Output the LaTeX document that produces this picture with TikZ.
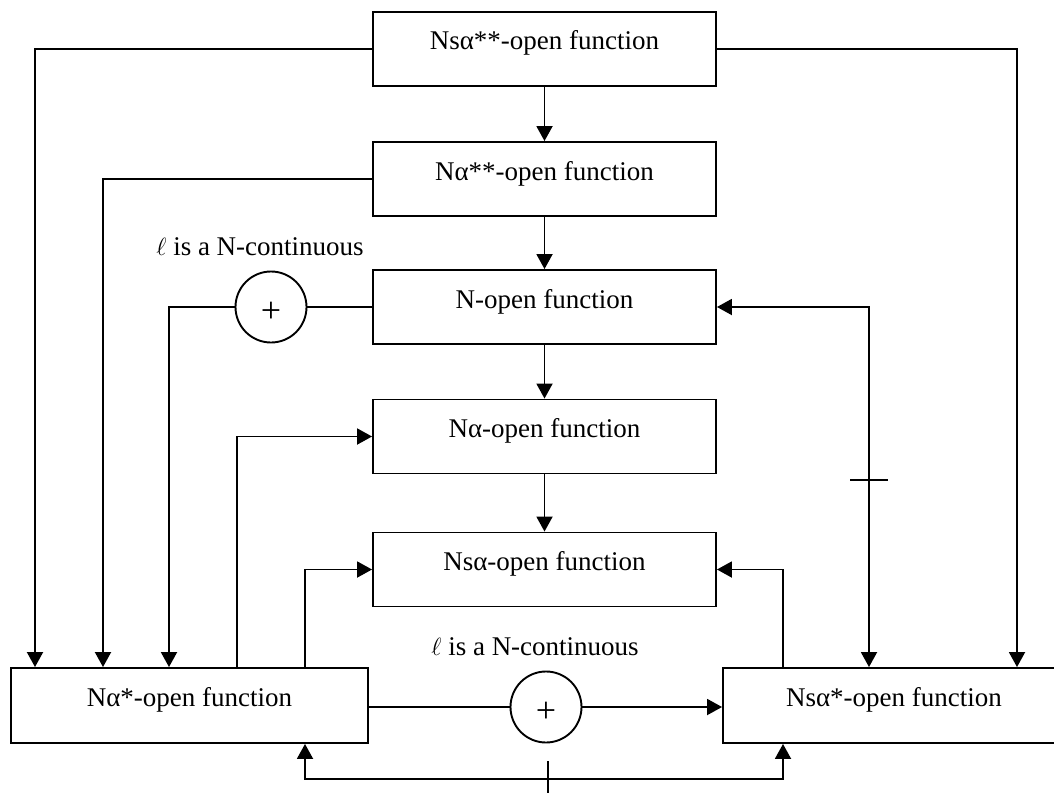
\documentclass[tikz,border=0pt]{standalone}
\usepackage{fontspec}
\setmainfont{Liberation Serif}
\usetikzlibrary{arrows.meta}
\begin{document}
\begin{tikzpicture}[x=1pt,y=-1pt,
  line width=1.9pt,
  txt/.style={font=\fontsize{27}{32}\selectfont},
  box/.style={draw, rectangle, inner sep=0pt, txt, text height=19pt, text depth=17pt},
  colbox/.style={box, minimum width=343pt, minimum height=74pt},
  sumnode/.style={draw, circle, inner sep=0pt, minimum size=71pt, font=\fontsize{36}{40}\selectfont, text height=30pt, text depth=0pt},
  arr/.style={-{Triangle[length=15pt,width=16pt]}},
  darr/.style={{Triangle[length=15pt,width=16pt]}-{Triangle[length=15pt,width=16pt]}}
]
\clip (0,0) rectangle (1054,792);
\fill[white] (0,0) rectangle (1054,792);

% boxes
\node[colbox] (b1) at (544.5,49) {Nsα**-open function};
\node[colbox] (b2) at (544.5,179) {Nα**-open function};
\node[colbox] (b3) at (544.5,307) {N-open function};
\node[colbox] (b4) at (544.5,436.5) {Nα-open function};
\node[colbox] (b5) at (544.5,569.5) {Nsα-open function};
\node[box, minimum width=357pt, minimum height=75pt] (b6) at (189.5,705.5) {Nα*-open function};
\node[box, minimum width=342pt, minimum height=75pt] (b7) at (894,705.5) {Nsα*-open function};

% summing circles
\node[sumnode] (c1) at (271,307) {+};
\node[sumnode] (c2) at (546,707) {+};

% labels
\node[txt, anchor=base] (l1) at (260,255) {$\ell$ is a N-continuous};
\node[txt, anchor=base] (l2) at (535,655) {$\ell$ is a N-continuous};

% column coordinates
\coordinate (xa) at (35,0);
\coordinate (xb) at (103,0);
\coordinate (xc) at (169,0);
\coordinate (xd) at (237,0);
\coordinate (xe) at (305,0);
\coordinate (xf) at (783,0);
\coordinate (xg) at (869,0);
\coordinate (xh) at (1017,0);
\coordinate (bot) at (548,779);
\coordinate (tickr) at (869,480);

% vertical chain
\draw[arr] (b1) -- (b2);
\draw[arr] (b2) -- (b3);
\draw[arr] (b3) -- (b4);
\draw[arr] (b4) -- (b5);

% long feeds
\draw[arr] (b1.west) -| (xa |- b6.north);
\draw[arr] (b1.east) -| (xh |- b7.north);
\draw[arr] (b2.west) -| (xb |- b6.north);

% N-open via circle to Na*
\draw (b3.west) -- (c1.east);
\draw[arr] (c1.west) -| (xc |- b6.north);

% N-open <-> Nsa*
\draw[darr] (b3.east) -| (xg |- b7.north);
\draw (tickr) ++(-19,0) -- ++(38,0);

% Na* up to Na and Nsa
\draw[arr] (xd |- b6.north) |- (b4.west);
\draw[arr] (xe |- b6.north) |- (b5.west);
\draw[arr] (xf |- b7.north) |- (b5.east);

% Na* via circle to Nsa*
\draw (b6.east |- c2) -- (c2.west);
\draw[arr] (c2.east) -- (b7.west |- c2);

% bottom double arrow with tick
\draw[darr] (xe |- b6.south) -- (xe |- bot) -- (xf |- bot) -- (xf |- b7.south);
\draw (bot) ++(0,-18) -- ++(0,36);
\end{tikzpicture}
\end{document}
